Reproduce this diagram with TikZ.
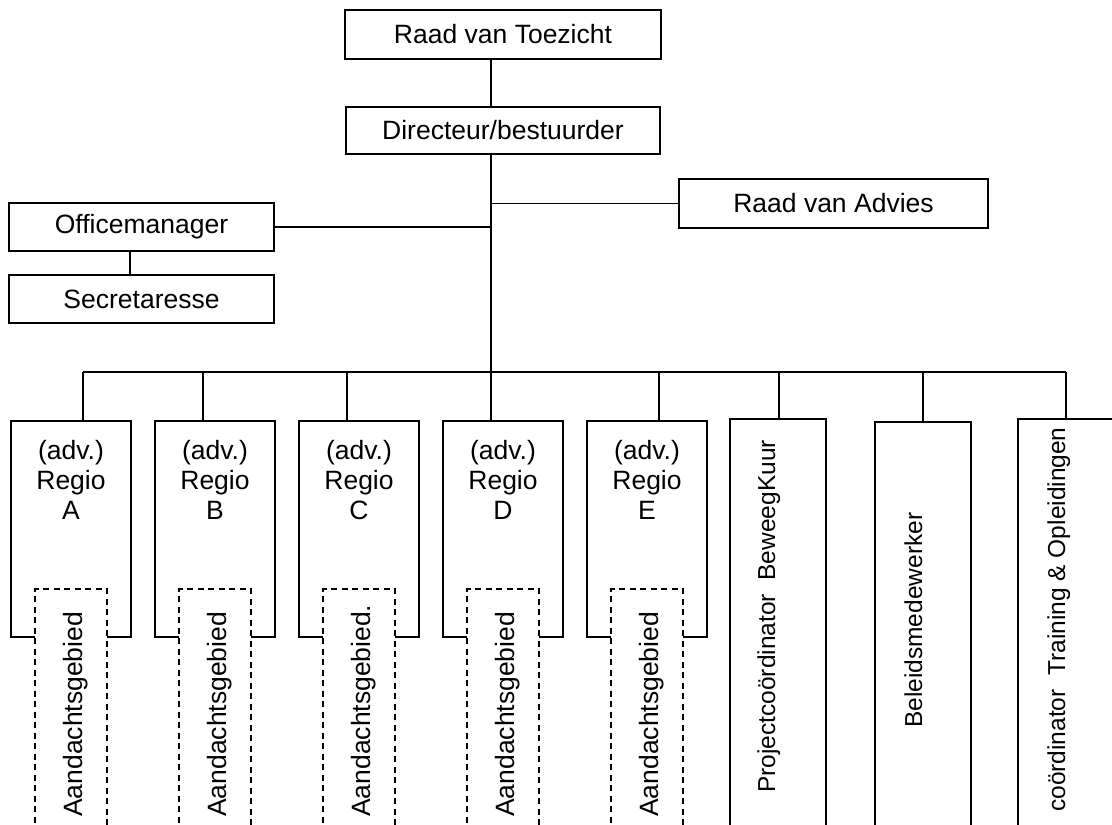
\documentclass[tikz,border=0pt]{standalone}
\usepackage{fontspec}
\setmainfont{Liberation Sans}
\begin{document}
\begin{tikzpicture}[x=1pt,y=1pt,
  box/.style={draw, line width=1.6pt, inner sep=0pt, fill=white, font=\fontsize{26.5}{30}\selectfont},
  txt/.style={inner sep=0pt, align=center, font=\fontsize{26.5}{30}\selectfont},
  vlbl/.style={inner sep=0pt, rotate=90, anchor=base west, font=\fontsize{24.5}{28}\selectfont},
  albl/.style={inner sep=0pt, rotate=90, anchor=base west, font=\fontsize{26.5}{30}\selectfont},
  link/.style={line width=1.6pt},
  dashbox/.style={draw, dash pattern=on 6pt off 4.5pt, line width=1.6pt, fill=white, inner sep=0pt}
]
\useasboundingbox (0,0) rectangle (1112,-825);
\clip (0,0) rectangle (1112,-825);

% top boxes
\node[box, minimum width=316, minimum height=49] (rvt) at (503,-34.5) {Raad van Toezicht};
\node[box, minimum width=314, minimum height=47] (dir) at (503,-130.5) {Directeur/bestuurder};
\node[box, minimum width=265, minimum height=48] (om) at (141.5,-227) {Officemanager};
\node[box, minimum width=265, minimum height=48] (sec) at (141.5,-299) {Secretaresse};
\node[box, minimum width=309, minimum height=49] (rva) at (833.5,-203.5) {Raad van Advies};

% helper coordinates
\coordinate (sp) at (491,-372);
\coordinate (osx) at (130,0);
\coordinate (busL) at (83,-372);
\coordinate (busR) at (1066,-372);
\coordinate (dA) at (83,-372);
\coordinate (dB) at (203,-372);
\coordinate (dC) at (347,-372);
\coordinate (dD) at (491,-372);
\coordinate (dE) at (659,-372);
\coordinate (dP) at (779,-372);
\coordinate (dBe) at (923,-372);
\coordinate (dCo) at (1066,-372);

% regio boxes
\node[box, minimum width=120, minimum height=216] (regA) at (71,-529) {};
\node[box, minimum width=120, minimum height=216] (regB) at (215,-529) {};
\node[box, minimum width=120, minimum height=216] (regC) at (359,-529) {};
\node[box, minimum width=120, minimum height=216] (regD) at (503,-529) {};
\node[box, minimum width=120, minimum height=216] (regE) at (647,-529) {};
\node[txt, anchor=north] (tA) at (71,-440) {(adv.)\\Regio\\A};
\node[txt, anchor=north] (tB) at (215,-440) {(adv.)\\Regio\\B};
\node[txt, anchor=north] (tC) at (359,-440) {(adv.)\\Regio\\C};
\node[txt, anchor=north] (tD) at (503,-440) {(adv.)\\Regio\\D};
\node[txt, anchor=north] (tE) at (647,-440) {(adv.)\\Regio\\E};

% dashed focus-area boxes
\node[dashbox, minimum width=72, minimum height=311] (aA) at (71,-744.5) {};
\node[dashbox, minimum width=72, minimum height=311] (aB) at (215,-744.5) {};
\node[dashbox, minimum width=72, minimum height=311] (aC) at (359,-744.5) {};
\node[dashbox, minimum width=72, minimum height=311] (aD) at (503,-744.5) {};
\node[dashbox, minimum width=72, minimum height=311] (aE) at (647,-744.5) {};
\node[albl] (lA) at (82,-817) {Aandachtsgebied};
\node[albl] (lB) at (226,-817) {Aandachtsgebied};
\node[albl] (lC) at (370,-817) {Aandachtsgebied.};
\node[albl] (lD) at (514,-817) {Aandachtsgebied};
\node[albl] (lE) at (658,-817) {Aandachtsgebied};

% right tall boxes
\node[box, minimum width=96, minimum height=481] (pk) at (778,-659.5) {};
\node[box, minimum width=96, minimum height=478] (bw) at (923,-661) {};
\node[box, minimum width=96, minimum height=481] (co) at (1066,-659.5) {};
\node[vlbl] (lP) at (775,-793) {Projectcoördinator\ \ BeweegKuur};
\node[vlbl] (lBe) at (922,-728) {Beleidsmedewerker};
\node[vlbl] (lCo) at (1065,-812) {coördinator\ \ Training \& Opleidingen};

% connectors
\draw[link] (rvt.south -| sp) -- (dir.north -| sp);
\draw[link] (dir.south -| sp) -- (sp);
\draw[link] (om.east) -- (om.east -| sp);
\draw[link] (rva.west) -- (rva.west -| sp);
\draw[link] (om.south -| osx) -- (sec.north -| osx);
\draw[link] (busL) -- (busR);
\draw[link] (dA) -- (dA |- regA.north);
\draw[link] (dB) -- (dB |- regB.north);
\draw[link] (dC) -- (dC |- regC.north);
\draw[link] (dD) -- (dD |- regD.north);
\draw[link] (dE) -- (dE |- regE.north);
\draw[link] (dP) -- (dP |- pk.north);
\draw[link] (dBe) -- (dBe |- bw.north);
\draw[link] (dCo) -- (dCo |- co.north);
\end{tikzpicture}
\end{document}
